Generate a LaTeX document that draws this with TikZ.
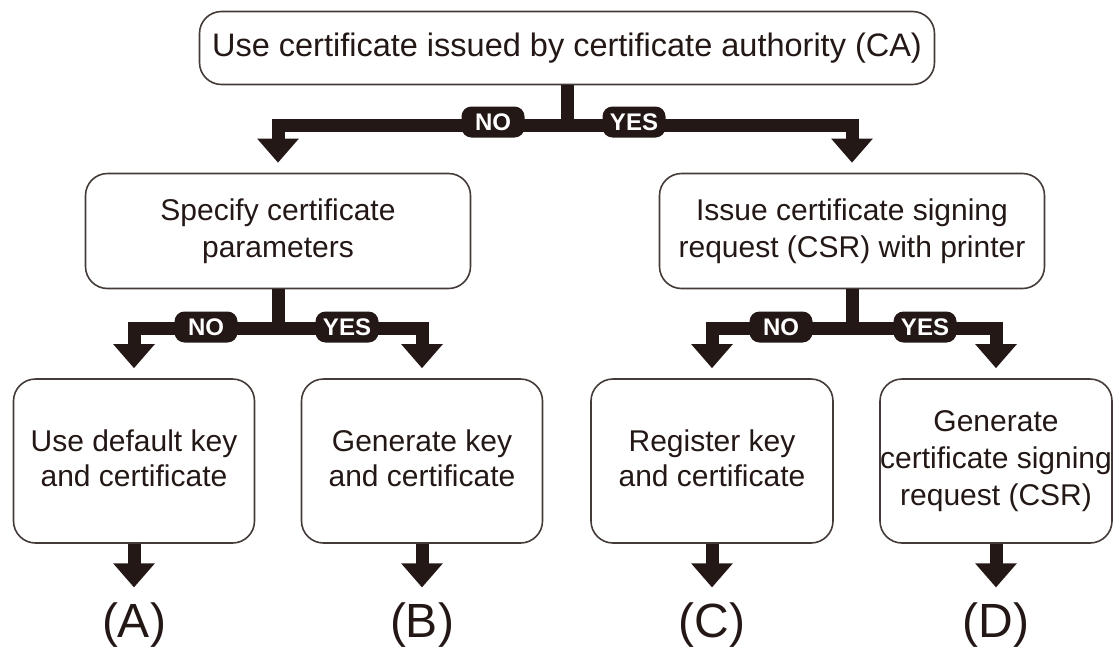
\documentclass[tikz,border=0pt]{standalone}
\usepackage{fontspec}
\setmainfont{Liberation Sans}
\usetikzlibrary{arrows.meta}
\definecolor{ink}{HTML}{231815}
\begin{document}
\begin{tikzpicture}[x=1pt,y=-1pt,
  box/.style={draw=ink!85, line width=1.6pt, rounded corners=22pt, fill=white, align=center, text=ink,
    font=\fontsize{30}{37}\selectfont, inner sep=0pt},
  flow/.style={draw=ink, line width=13pt, -{Triangle[width=40pt,length=24pt]}, shorten >=10pt},
  tag/.style={fill=ink, text=white, rounded corners=10pt, font=\fontsize{24}{24}\selectfont\bfseries,
    inner xsep=0pt, inner ysep=0pt, minimum height=31pt, minimum width=63pt},
  result/.style={text=ink, font=\fontsize{48}{48}\selectfont, inner sep=3pt}]
\useasboundingbox (0,0) rectangle (1114,651);

% boxes
\node[box, minimum width=735pt, minimum height=73pt, font=\fontsize{32.5}{37}\selectfont] (top) at (567,48)
  {Use certificate issued by certificate authority (CA)};
\node[box, minimum width=385pt, minimum height=115pt] (ml) at (278,231) {Specify certificate\\parameters};
\node[box, minimum width=385pt, minimum height=115pt] (mr) at (852,231) {Issue certificate signing\\request (CSR) with printer};
\node[box, minimum width=241pt, minimum height=164pt] (A) at (134,461) {\raisebox{5pt}{\shortstack{Use default key\\[4pt]and certificate}}};
\node[box, minimum width=241pt, minimum height=164pt] (B) at (422,461) {\raisebox{5pt}{\shortstack{Generate key\\[4pt]and certificate}}};
\node[box, minimum width=242pt, minimum height=164pt] (C) at (712,461) {\raisebox{5pt}{\shortstack{Register key\\[4pt]and certificate}}};
\node[box, minimum width=232pt, minimum height=164pt] (D) at (996,461) {Generate\\certificate signing\\request (CSR)};

% results
\node[result] (ra) at (134,625) {(A)};
\node[result] (rb) at (422,625) {(B)};
\node[result] (rc) at (712,625) {(C)};
\node[result] (rd) at (996,625) {(D)};

% branch points
\coordinate (j0) at (567,125);
\coordinate (j1) at (278,328);
\coordinate (j2) at (852,328);

% connectors, tier 1
\draw[flow] (top.south) -- (j0) -| (ml.north);
\draw[flow] (top.south) -- (j0) -| (mr.north);
% tier 2
\draw[flow] (ml.south) -- (j1) -| (A.north);
\draw[flow] (ml.south) -- (j1) -| (B.north);
\draw[flow] (mr.south) -- (j2) -| (C.north);
\draw[flow] (mr.south) -- (j2) -| (D.north);
% to results
\foreach \s/\t in {A/ra,B/rb,C/rc,D/rd}
  \draw[flow, shorten >=12pt] (\s.south) -- (\t.north);

% tags
\node[tag] (n0) at (493,122) {NO};
\node[tag] (y0) at (634,122) {YES};
\node[tag] (n1) at (206,327) {NO};
\node[tag] (y1) at (347,327) {YES};
\node[tag] (n2) at (781,327) {NO};
\node[tag] (y2) at (925,327) {YES};
\end{tikzpicture}
\end{document}
